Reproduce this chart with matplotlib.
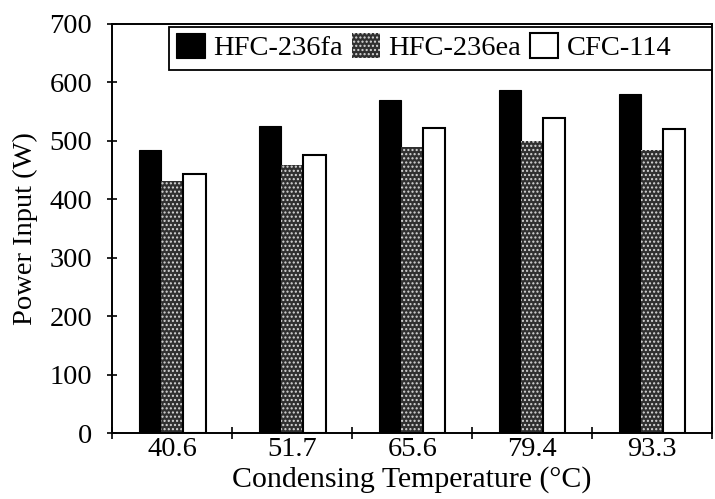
import matplotlib.pyplot as plt
from matplotlib.patches import Rectangle
import numpy as np

plt.rcParams['font.family'] = ['Liberation Serif', 'DejaVu Serif']

# Данные
temps = ['40.6', '51.7', '65.6', '79.4', '93.3']
hfc236fa = [485, 526, 570, 587, 581]
hfc236ea = [432, 459, 490, 500, 484]
cfc114 = [443, 476, 522, 539, 521]

fig = plt.figure(figsize=(7.15, 4.99), dpi=100)
ax = fig.add_axes([0.157, 0.132, 0.839, 0.820])

x = np.arange(len(temps))
w = 0.185

ax.bar(x - w, hfc236fa, w, color='black', edgecolor='black', linewidth=0.8,
       label='HFC-236fa')
ax.bar(x, hfc236ea, w, color='#303030', edgecolor='#d8d8d8', linewidth=0,
       hatch='....', label='HFC-236ea')
ax.bar(x + w, cfc114, w, color='white', edgecolor='black', linewidth=1.5,
       label='CFC-114')

ax.set_xlim(-0.5, len(temps) - 0.5)
ax.set_ylim(0, 700)
ax.set_yticks(np.arange(0, 701, 100))

# подписи по центру групп, засечки между группами
ax.set_xticks(x)
ax.set_xticklabels(temps)
ax.tick_params(axis='x', which='major', length=0, labelsize=20.5, pad=3)
ax.set_xticks(np.arange(-0.5, len(temps)), minor=True)
ax.tick_params(axis='x', which='minor', length=8, direction='inout', width=1.2)
ax.tick_params(axis='y', length=7, direction='inout', width=1.2,
               labelsize=20.5, pad=11)

for s in ax.spines.values():
    s.set_linewidth(1.4)

ax.set_xlabel('Condensing Temperature (°C)', fontsize=21.5, labelpad=3)
ax.set_ylabel('Power Input (W)', fontsize=20.5, labelpad=8)

# легенда без рамки + своя рамка до правого края осей
leg = ax.legend(loc='upper left', bbox_to_anchor=(0.095, 0.996), ncol=3,
                fontsize=20.5, frameon=False, borderaxespad=0,
                handlelength=1.0, handleheight=1.0, handletextpad=0.3,
                columnspacing=0.3, borderpad=0.25)
ax.add_patch(Rectangle((0.095, 0.888), 0.905, 0.105, transform=ax.transAxes,
                       fill=True, facecolor='white', edgecolor='black',
                       linewidth=1.3, zorder=4))
leg.set_zorder(5)

fig.savefig('out.png', dpi=100)
